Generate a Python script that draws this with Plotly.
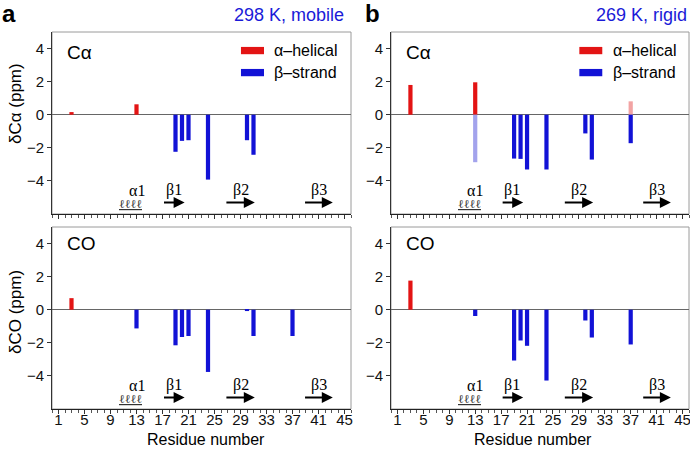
"""
Secondary chemical shifts (dCa, dCO) per residue at two temperatures
"""

import plotly.graph_objects as go

# ---- data ----
res_ca_a = [3, 13, 19, 20, 21, 24, 30, 31]
val_ca_a = [0.16, 0.63, -2.24, -1.58, -1.54, -3.92, -1.54, -2.42]
faded_ca_a = [False] * len(res_ca_a)

res_co_a = [3, 13, 19, 20, 21, 24, 30, 31, 37]
val_co_a = [0.70, -1.13, -2.15, -1.65, -1.59, -3.76, -0.08, -1.59, -1.59]
faded_co_a = [False] * len(res_co_a)

res_ca_b = [3, 13, 13, 19, 20, 21, 24, 30, 31, 37, 37]
val_ca_b = [1.80, 1.96, -2.87, -2.65, -2.67, -3.31, -3.31, -1.13, -2.71, 0.81, -1.72]
faded_ca_b = [False, False, True, False, False, False, False, False, False, True, False]

res_co_b = [3, 13, 19, 20, 21, 24, 30, 31, 37]
val_co_b = [1.76, -0.38, -3.07, -1.86, -2.18, -4.28, -0.65, -1.68, -2.10]
faded_co_b = [False] * len(res_co_b)

x_ticks = list(range(1, 46, 4))
y_ticks = [-4, -2, 0, 2, 4]

# secondary structure elements
ss_labels = ["α1", "β1", "β2", "β3"]
ss_label_x = [13, 18.7, 29, 41]
strand_start = [17.0, 26.6, 38.7]
strand_end = [20.4, 31.2, 43.2]
helix_x = 12.1

panel_titles = ["298 K, mobile", "269 K, rigid"]
panel_letters = ["a", "b"]

RED = "#e31414"
BLUE = "#1212d6"
RED_FADED = "#f2a3a3"
BLUE_FADED = "#a3a3ec"
SANS = "Liberation Sans, Arial, sans-serif"
SERIF = "Liberation Serif, Times New Roman, serif"

W, H = 690, 453
x_dom = [[52 / W, 351 / W], [391 / W, 689 / W]]
y_dom = [[1 - 214 / H, 1 - 32 / H], [1 - 409 / H, 1 - 227 / H]]


def bar_colors(vals, faded):
    out = []
    for v, f in zip(vals, faded):
        if v >= 0:
            out.append(RED_FADED if f else RED)
        else:
            out.append(BLUE_FADED if f else BLUE)
    return out


fig = go.Figure()

panels = [
    (res_ca_a, val_ca_a, faded_ca_a),
    (res_ca_b, val_ca_b, faded_ca_b),
    (res_co_a, val_co_a, faded_co_a),
    (res_co_b, val_co_b, faded_co_b),
]

for i, (res, vals, faded) in enumerate(panels):
    n = "" if i == 0 else str(i + 1)
    fig.add_trace(go.Bar(
        x=res, y=vals, width=0.65,
        marker=dict(color=bar_colors(vals, faded), line=dict(width=0)),
        xaxis="x" + n, yaxis="y" + n, showlegend=False, hoverinfo="x+y"
    ))

annotations = []
shapes = []

for i in range(4):
    n = "" if i == 0 else str(i + 1)
    col, row = i % 2, i // 2
    bottom = row == 1
    fig.update_layout(**{
        "xaxis" + n: dict(
            domain=x_dom[col], anchor="y" + n, range=[0, 46],
            tickvals=x_ticks, showticklabels=bottom,
            ticks="outside", ticklen=4, tickcolor="#333",
            minor=dict(dtick=1, tick0=0, ticks="outside", ticklen=3, tickcolor="#555"),
            showline=True, linecolor="#222", linewidth=1,
            showgrid=False, zeroline=False, automargin=False,
            ticklabelstandoff=-7, ticklabeloverflow="allow",
            tickfont=dict(family=SANS, size=15, color="#111"),
        ),
        "yaxis" + n: dict(
            domain=y_dom[row], anchor="x" + n, range=[-6, 5],
            tickvals=y_ticks, ticks="outside", ticklen=4, tickcolor="#333",
            showline=True, linecolor="#333", linewidth=1, automargin=False,
            showgrid=False, zeroline=True, zerolinecolor="#666", zerolinewidth=1,
            tickfont=dict(family=SANS, size=15, color="#111"),
        ),
    })

    xd, yd = "x" + n + " domain", "y" + n + " domain"
    # gray frame
    shapes.append(dict(type="rect", xref=xd, yref=yd, x0=0, x1=1, y0=0, y1=1,
                       line=dict(color="#9a9a9a", width=1), layer="below"))

    # nucleus label
    annotations.append(dict(xref=xd, yref=yd, x=0.045, y=0.89 if row == 0 else 0.91,
                            text="Cα" if row == 0 else "CO", showarrow=False,
                            xanchor="left", yanchor="middle",
                            font=dict(family=SANS, size=19, color="black")))

    # secondary structure
    xr, yr = "x" + n, "y" + n
    for lab, lx in zip(ss_labels, ss_label_x):
        annotations.append(dict(xref=xr, yref=yr, x=lx, y=-4.55, text=lab,
                                showarrow=False, yanchor="middle",
                                font=dict(family=SERIF, size=16, color="black")))
    annotations.append(dict(xref=xr, yref=yr, x=helix_x, y=-5.38, text="<u>ℓℓℓℓ</u>",
                            showarrow=False, yanchor="middle",
                            font=dict(family=SERIF, size=12, color="#333")))
    for s0, s1 in zip(strand_start, strand_end):
        annotations.append(dict(xref=xr, yref=yr, axref=xr, ayref=yr,
                                x=s1, y=-5.3, ax=s0, ay=-5.3, text="",
                                showarrow=True, arrowhead=2, arrowsize=1.1,
                                arrowwidth=2, arrowcolor="black"))

    if row == 0:
        # hand-made legend
        for k, (c, lab) in enumerate([(RED, "α–helical"), (BLUE, "β–strand")]):
            yc = 0.898 - k * 0.121
            shapes.append(dict(type="rect", xref=xd, yref=yd, x0=0.632, x1=0.709,
                               y0=yc - 0.02, y1=yc + 0.02,
                               fillcolor=c, line=dict(width=0)))
            annotations.append(dict(xref=xd, yref=yd, x=0.737, y=yc, text=lab,
                                    showarrow=False, xanchor="left", yanchor="middle",
                                    font=dict(family=SANS, size=16, color="black")))
    else:
        annotations.append(dict(xref="paper", yref="paper",
                                x=(206 if col == 0 else 533) / W, y=1 - 439 / H,
                                text="Residue number", showarrow=False,
                                xanchor="center", yanchor="middle",
                                font=dict(family=SANS, size=16, color="black")))

# panel letters and titles
for col in range(2):
    annotations.append(dict(xref="paper", yref="paper",
                            x=(0 if col == 0 else 363) / W, y=1 - 13 / H,
                            text="<b>" + panel_letters[col] + "</b>", showarrow=False,
                            xanchor="left", yanchor="middle",
                            font=dict(family=SANS, size=24, color="black")))
    annotations.append(dict(xref="paper", yref="paper",
                            x=(346 if col == 0 else 689) / W, y=1 - 15 / H,
                            text=panel_titles[col], showarrow=False,
                            xanchor="right", yanchor="middle",
                            font=dict(family=SANS, size=18, color="#1a1ad8")))

# y titles
for row, txt, yc in [(0, "δCα (ppm)", 104), (1, "δCO (ppm)", 312)]:
    annotations.append(dict(xref="paper", yref="paper", x=15 / W, y=1 - yc / H,
                            text=txt, textangle=-90, showarrow=False,
                            xanchor="center", yanchor="middle",
                            font=dict(family=SANS, size=17, color="black")))

fig.update_layout(
    width=W, height=H,
    margin=dict(l=0, r=0, t=0, b=0),
    barmode="overlay",
    plot_bgcolor="white", paper_bgcolor="white",
    showlegend=False,
    annotations=annotations,
    shapes=shapes,
)

# drop the page's default body margin so the figure sits at the window origin
fig.write_html("out.html", config={"displayModeBar": False},
               post_script="document.body.style.margin='0';")
